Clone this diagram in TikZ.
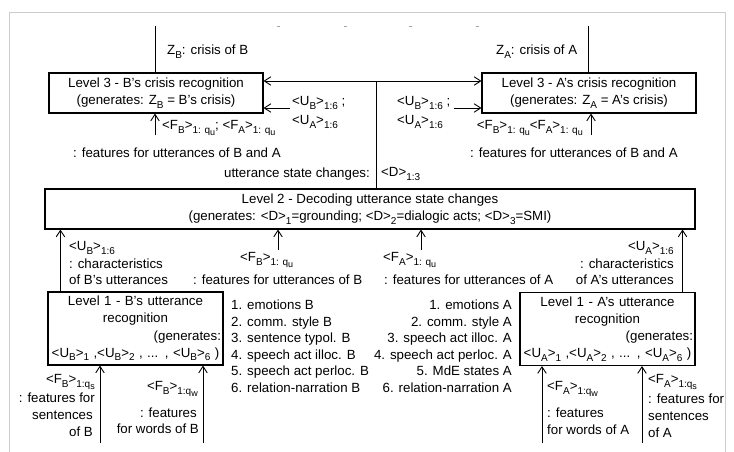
\documentclass[tikz,border=0pt]{standalone}
\usepackage{fontspec}
\setmainfont{Liberation Sans}
\usetikzlibrary{arrows.meta}
\newcommand{\ssub}[1]{\raisebox{-3.5pt}{\fontsize{10}{10}\selectfont #1}}
\newcommand{\sssub}[1]{\raisebox{-2.5pt}{\fontsize{9}{9}\selectfont #1}}

\begin{document}
\begin{tikzpicture}[x=1pt,y=-1pt,
  every node/.style={font=\fontsize{13.3}{17.2}\selectfont},
  box/.style={draw, line width=1.1pt, inner sep=0pt, align=center},
  lbl/.style={inner sep=0pt, text height=9.6pt, text depth=0pt},
  line/.style={line width=0.9pt},
  arr/.style={line width=0.9pt, -{Straight Barb[length=6.5pt,width=8.5pt]}}]
\useasboundingbox (0,0) rectangle (734,452);
\draw[gray!40, line width=0.8pt] (9,452) -- (9,12) -- (725,12) -- (725,452);
\foreach \x in {278,345,410,477}
  \draw[gray!70, line width=0.8pt] ({\x-1.5},26) -- ({\x+1.5},26);

% level 3
\node[box, minimum width=214, minimum height=40] (lvB) at (156,93)
  {Level 3 - B's crisis recognition\\(generates: Z\ssub{B} = B's crisis)};
\node[box, minimum width=214, minimum height=40] (lvA) at (589,93)
  {Level 3 - A's crisis recognition\\(generates: Z\ssub{A} = A's crisis)};
\coordinate (zB) at (155,26);
\coordinate (zA) at (588,26);
\draw[line] (zB |- lvB.north) -- (zB);
\draw[line] (zA |- lvA.north) -- (zA);
\node[lbl, anchor=west] (zBlbl) at (167,50) {Z\ssub{B}: crisis of B};
\node[lbl, anchor=west] (zAlbl) at (496,50) {Z\ssub{A}: crisis of A};

% level 2
\node[box, minimum width=650, minimum height=40] (lvD) at (370,209)
  {Level 2 - Decoding utterance state changes\\(generates: <D>\ssub{1}=grounding; <D>\ssub{2}=dialogic acts; <D>\ssub{3}=SMI)};
\coordinate (dtop) at (376,81);
\draw[line] (dtop |- lvD.north) -- (dtop);
\draw[arr] (dtop) -- (dtop -| lvB.east);
\draw[arr] (dtop) -- (dtop -| lvA.west);
\node[lbl, anchor=east] (dlbl) at (370,173) {utterance state changes:};
\node[lbl, anchor=west] (dvec) at (381,172) {<D>\ssub{1:3}};

\coordinate (uB) at (290,108);
\coordinate (uA) at (454,108);
\draw[arr] (uB) -- (uB -| lvB.east);
\draw[arr] (uA) -- (uA -| lvA.west);
\node[lbl, anchor=west] (uBl1) at (292,101) {<U\ssub{B}>\ssub{1:6} ;};
\node[lbl, anchor=west] (uBl2) at (292,120) {<U\ssub{A}>\ssub{1:6}};
\node[lbl, anchor=west] (uAl1) at (397,101) {<U\ssub{B}>\ssub{1:6} ;};
\node[lbl, anchor=west] (uAl2) at (397,120) {<U\ssub{A}>\ssub{1:6}};

\coordinate (fB3) at (155,135);
\coordinate (fA3) at (591,135);
\draw[arr] (fB3) -- (fB3 |- lvB.south);
\draw[arr] (fA3) -- (fA3 |- lvA.south);
\node[lbl, anchor=west] (fB3l) at (162,125) {<F\ssub{B}>\ssub{1: q\sssub{u}}; <F\ssub{A}>\ssub{1: q\sssub{u}}};
\node[lbl, anchor=east] (fA3l) at (583,125) {<F\ssub{B}>\ssub{1: q\sssub{u}}<F\ssub{A}>\ssub{1: q\sssub{u}}};
\node[lbl, anchor=west] (fB3t) at (73,153) {: features for utterances of B and A};
\node[lbl, anchor=west] (fA3t) at (470,153) {: features for utterances of B and A};

% level 1
\node[box, minimum width=175, minimum height=73, text width=171] (lvUB) at (135.5,328.5)
  {Level 1 - B's utterance\\recognition\\\hspace*{0pt plus 1filll}(generates:\\<U\ssub{B}>\ssub{1} ,<U\ssub{B}>\ssub{2} , ... , <U\ssub{B}>\ssub{6} )};
\node[box, minimum width=175, minimum height=73, text width=171] (lvUA) at (607.5,329)
  {Level 1 - A's utterance\\recognition\\\hspace*{0pt plus 1filll}(generates:\\<U\ssub{A}>\ssub{1} ,<U\ssub{A}>\ssub{2} , ... , <U\ssub{A}>\ssub{6} )};
\draw[arr] ([xshift=13pt]lvUB.north west) -- ([xshift=13pt]lvUB.north west |- lvD.south);
\draw[arr] ([xshift=-13pt]lvUA.north east) -- ([xshift=-13pt]lvUA.north east |- lvD.south);
\node[lbl, anchor=west] (cB1) at (69,246) {<U\ssub{B}>\ssub{1:6}};
\node[lbl, anchor=west] (cB2) at (69,264) {: characteristics};
\node[lbl, anchor=west] (cB3) at (69,280) {of B's utterances};
\node[lbl, anchor=east] (cA1) at (674,246) {<U\ssub{A}>\ssub{1:6}};
\node[lbl, anchor=east] (cA2) at (674,264) {: characteristics};
\node[lbl, anchor=east] (cA3) at (674,280) {of A's utterances};

\coordinate (fB2) at (278,250);
\coordinate (fA2) at (421,250);
\draw[arr] (fB2) -- (fB2 |- lvD.south);
\draw[arr] (fA2) -- (fA2 |- lvD.south);
\node[lbl, anchor=west] (fB2l) at (240,257) {<F\ssub{B}>\ssub{1: q\sssub{u}}};
\node[lbl, anchor=west] (fA2l) at (383,257) {<F\ssub{A}>\ssub{1: q\sssub{u}}};
\node[lbl, anchor=west] (fB2t) at (193,280) {: features for utterances of B};
\node[lbl, anchor=west] (fA2t) at (384,280) {: features for utterances of A};

% characteristics lists
\foreach \t [count=\i] in {emotions B, comm. style B, sentence typol. B,
    speech act illoc. B, speech act perloc. B, relation-narration B}
  \node[lbl, anchor=west] (lsB\i) at (231,{288+16.6*\i}) {\i. \t};
\foreach \t [count=\i] in {emotions A, comm. style A, speech act illoc. A,
    speech act perloc. A, MdE states A, relation-narration A}
  \node[lbl, anchor=east] (lsA\i) at (512,{288+16.6*\i}) {\i. \t};

% level 1 inputs
\coordinate (sB) at (100,443);
\coordinate (wB) at (203,443);
\coordinate (wA) at (542,443);
\coordinate (sA) at (642,443);
\draw[arr] (sB) -- (sB |- lvUB.south);
\draw[arr] (wB) -- (wB |- lvUB.south);
\draw[arr] (wA) -- (wA |- lvUA.south);
\draw[arr] (sA) -- (sA |- lvUA.south);
\node[lbl, anchor=east] (sBl1) at (95,379) {<F\ssub{B}>\ssub{1:q\sssub{s}}};
\node[lbl, anchor=east] (sBl2) at (95,398) {: features for};
\node[lbl, anchor=east] (sBl3) at (93,415) {sentences};
\node[lbl, anchor=east] (sBl4) at (93,432) {of B};
\node[lbl, anchor=east] (wBl1) at (198,386) {<F\ssub{B}>\ssub{1:q\sssub{w}}};
\node[lbl, anchor=east] (wBl2) at (197,413) {: features};
\node[lbl, anchor=east] (wBl3) at (199,429) {for words of B};
\node[lbl, anchor=west] (wAl1) at (547,386) {<F\ssub{A}>\ssub{1:q\sssub{w}}};
\node[lbl, anchor=west] (wAl2) at (547,413) {: features};
\node[lbl, anchor=west] (wAl3) at (547,430) {for words of A};
\node[lbl, anchor=west] (sAl1) at (648,379) {<F\ssub{A}>\ssub{1:q\sssub{s}}};
\node[lbl, anchor=west] (sAl2) at (648,399) {: features for};
\node[lbl, anchor=west] (sAl3) at (648,416) {sentences};
\node[lbl, anchor=west] (sAl4) at (648,433) {of A};
\end{tikzpicture}
\end{document}
